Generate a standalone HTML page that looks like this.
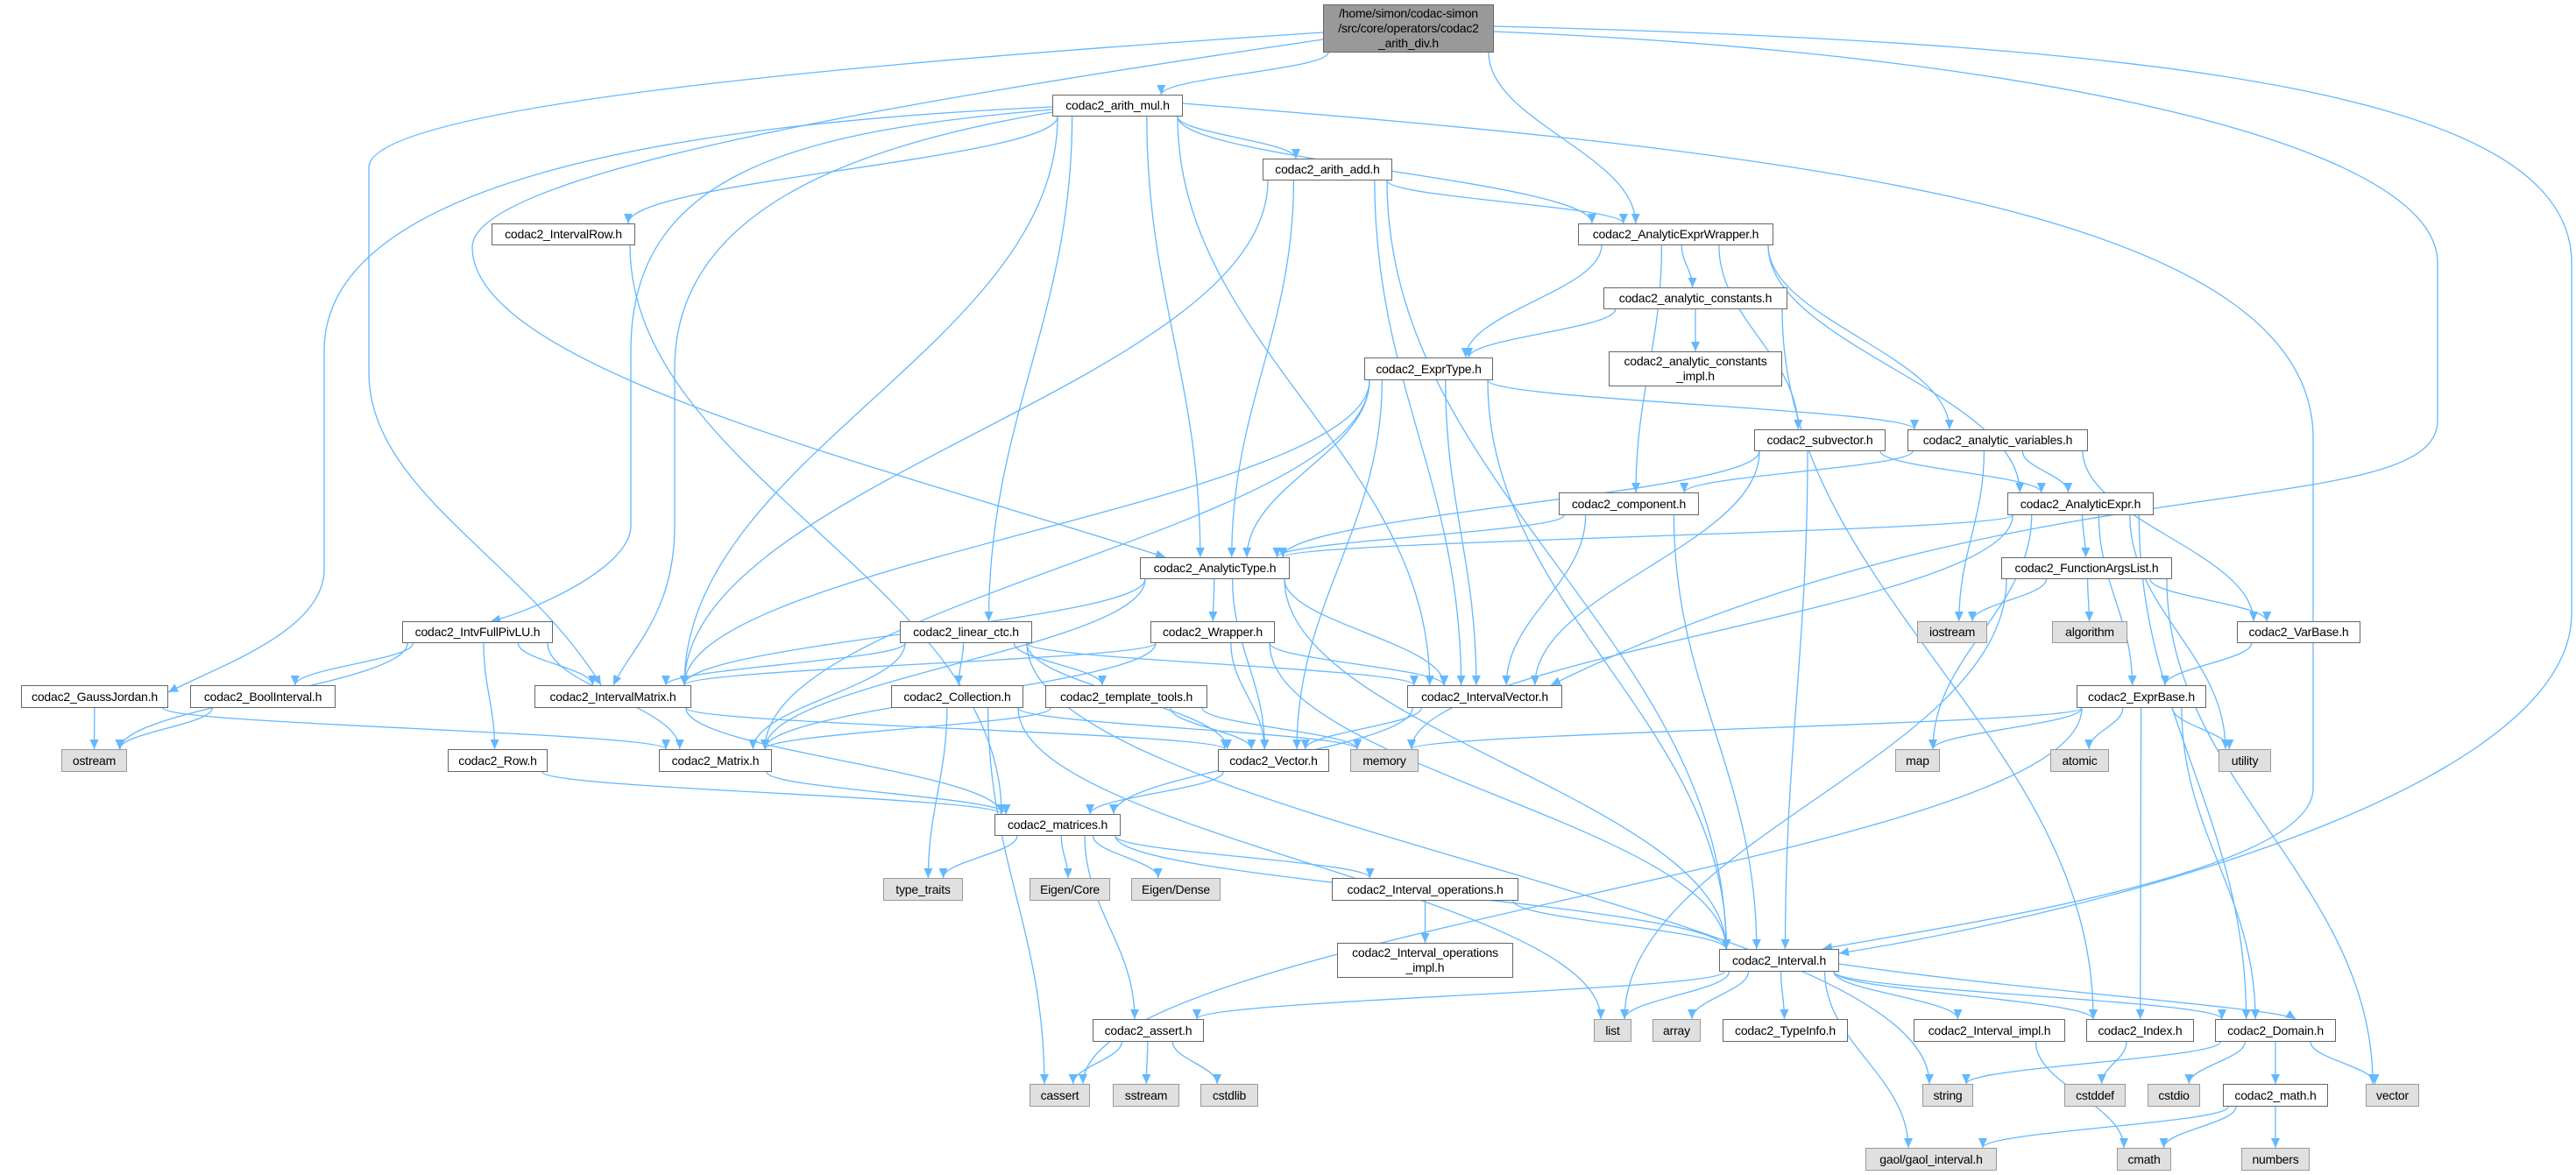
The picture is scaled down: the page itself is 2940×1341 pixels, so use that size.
<!DOCTYPE html>
<html><head><meta charset="utf-8">
<style>
html,body{margin:0;padding:0;background:#fff;}
#wrap{position:relative;width:2940px;height:1341px;overflow:hidden;background:#fff;}
svg{position:absolute;left:0;top:0;}
.n{position:absolute;box-sizing:border-box;border:1.5px solid #666;background:#fff;font-family:"Liberation Sans",sans-serif;font-size:14px;color:#000;display:flex;align-items:center;justify-content:center;text-align:center;line-height:17px;white-space:nowrap;letter-spacing:-0.2px;}
.g{background:#e0e0e0;border-color:#999;}
.r{background:#999;border-color:#666;}
</style></head><body><div id="wrap">
<svg id="edges" width="2940" height="1341" viewBox="0 0 2940 1341">
<defs><marker id="ah" markerUnits="userSpaceOnUse" markerWidth="12" markerHeight="10" refX="11" refY="5" orient="auto"><path d="M0,0 L11,5 L0,10 z" fill="#63b8ff"/></marker></defs>
<g id="eg" fill="none" stroke="#63b8ff" stroke-width="1.3"></g>
</svg>
<div class="n r" id="root" style="left:1510px;top:5px;width:195px;height:55px;">/home/simon/codac-simon<br>/src/core/operators/codac2<br>_arith_div.h</div>
<div class="n" id="mul" style="left:1201px;top:108px;width:149px;height:25px;">codac2_arith_mul.h</div>
<div class="n" id="add" style="left:1441px;top:181px;width:148px;height:25px;">codac2_arith_add.h</div>
<div class="n" id="aew" style="left:1801px;top:255px;width:223px;height:25px;">codac2_AnalyticExprWrapper.h</div>
<div class="n" id="aconst" style="left:1830px;top:328px;width:210px;height:25px;">codac2_analytic_constants.h</div>
<div class="n" id="aconstimpl" style="left:1836px;top:401px;width:198px;height:40px;">codac2_analytic_constants<br>_impl.h</div>
<div class="n" id="expr" style="left:1557px;top:408px;width:147px;height:26px;">codac2_ExprType.h</div>
<div class="n" id="comp" style="left:1779px;top:562px;width:160px;height:26px;">codac2_component.h</div>
<div class="n" id="atype" style="left:1301px;top:636px;width:171px;height:25px;">codac2_AnalyticType.h</div>
<div class="n" id="subv" style="left:2002px;top:490px;width:150px;height:25px;">codac2_subvector.h</div>
<div class="n" id="avars" style="left:2177px;top:490px;width:206px;height:25px;">codac2_analytic_variables.h</div>
<div class="n" id="aexpr" style="left:2291px;top:562px;width:167px;height:26px;">codac2_AnalyticExpr.h</div>
<div class="n" id="fargs" style="left:2284px;top:636px;width:195px;height:25px;">codac2_FunctionArgsList.h</div>
<div class="n" id="irow" style="left:561px;top:255px;width:164px;height:25px;">codac2_IntervalRow.h</div>
<div class="n" id="ifull" style="left:459px;top:709px;width:172px;height:25px;">codac2_IntvFullPivLU.h</div>
<div class="n" id="gj" style="left:24px;top:782px;width:168px;height:26px;">codac2_GaussJordan.h</div>
<div class="n" id="bool" style="left:217px;top:782px;width:166px;height:26px;">codac2_BoolInterval.h</div>
<div class="n g" id="ostream" style="left:70px;top:855px;width:75px;height:26px;">ostream</div>
<div class="n" id="imat" style="left:610px;top:782px;width:179px;height:26px;">codac2_IntervalMatrix.h</div>
<div class="n" id="row" style="left:511px;top:855px;width:114px;height:26px;">codac2_Row.h</div>
<div class="n" id="mat" style="left:752px;top:855px;width:129px;height:26px;">codac2_Matrix.h</div>
<div class="n" id="lctc" style="left:1027px;top:709px;width:151px;height:25px;">codac2_linear_ctc.h</div>
<div class="n" id="wrap2" style="left:1313px;top:709px;width:142px;height:25px;">codac2_Wrapper.h</div>
<div class="n" id="coll" style="left:1017px;top:782px;width:151px;height:26px;">codac2_Collection.h</div>
<div class="n" id="ttools" style="left:1193px;top:782px;width:185px;height:26px;">codac2_template_tools.h</div>
<div class="n" id="ivec" style="left:1606px;top:782px;width:177px;height:26px;">codac2_IntervalVector.h</div>
<div class="n" id="vec" style="left:1390px;top:855px;width:127px;height:26px;">codac2_Vector.h</div>
<div class="n g" id="memory" style="left:1541px;top:855px;width:78px;height:26px;">memory</div>
<div class="n g" id="map" style="left:2163px;top:855px;width:51px;height:26px;">map</div>
<div class="n g" id="atomic" style="left:2340px;top:855px;width:67px;height:26px;">atomic</div>
<div class="n g" id="utility" style="left:2532px;top:855px;width:60px;height:26px;">utility</div>
<div class="n g" id="iostream" style="left:2188px;top:709px;width:80px;height:25px;">iostream</div>
<div class="n g" id="algo" style="left:2342px;top:709px;width:86px;height:25px;">algorithm</div>
<div class="n" id="varbase" style="left:2553px;top:709px;width:141px;height:25px;">codac2_VarBase.h</div>
<div class="n" id="exprbase" style="left:2370px;top:782px;width:148px;height:26px;">codac2_ExprBase.h</div>
<div class="n" id="matrices" style="left:1135px;top:929px;width:144px;height:25px;">codac2_matrices.h</div>
<div class="n g" id="ttraits" style="left:1008px;top:1002px;width:91px;height:26px;">type_traits</div>
<div class="n g" id="ecore" style="left:1175px;top:1002px;width:92px;height:26px;">Eigen/Core</div>
<div class="n g" id="edense" style="left:1291px;top:1002px;width:102px;height:26px;">Eigen/Dense</div>
<div class="n" id="iops" style="left:1520px;top:1002px;width:213px;height:26px;">codac2_Interval_operations.h</div>
<div class="n" id="iopsimpl" style="left:1526px;top:1076px;width:201px;height:40px;">codac2_Interval_operations<br>_impl.h</div>
<div class="n" id="interval" style="left:1962px;top:1083px;width:137px;height:26px;">codac2_Interval.h</div>
<div class="n" id="assert" style="left:1247px;top:1163px;width:127px;height:26px;">codac2_assert.h</div>
<div class="n g" id="list" style="left:1819px;top:1163px;width:43px;height:26px;">list</div>
<div class="n g" id="array" style="left:1886px;top:1163px;width:55px;height:26px;">array</div>
<div class="n" id="typeinfo" style="left:1966px;top:1163px;width:143px;height:26px;">codac2_TypeInfo.h</div>
<div class="n" id="iimpl" style="left:2184px;top:1163px;width:173px;height:26px;">codac2_Interval_impl.h</div>
<div class="n" id="index" style="left:2381px;top:1163px;width:123px;height:26px;">codac2_Index.h</div>
<div class="n" id="domain" style="left:2528px;top:1163px;width:138px;height:26px;">codac2_Domain.h</div>
<div class="n g" id="cassert" style="left:1175px;top:1237px;width:69px;height:26px;">cassert</div>
<div class="n g" id="sstream" style="left:1270px;top:1237px;width:76px;height:26px;">sstream</div>
<div class="n g" id="cstdlib" style="left:1370px;top:1237px;width:66px;height:26px;">cstdlib</div>
<div class="n g" id="string" style="left:2194px;top:1237px;width:58px;height:26px;">string</div>
<div class="n g" id="cstddef" style="left:2356px;top:1237px;width:70px;height:26px;">cstddef</div>
<div class="n g" id="cstdio" style="left:2451px;top:1237px;width:60px;height:26px;">cstdio</div>
<div class="n" id="math" style="left:2537px;top:1237px;width:120px;height:26px;">codac2_math.h</div>
<div class="n g" id="vector" style="left:2700px;top:1237px;width:61px;height:26px;">vector</div>
<div class="n g" id="gaol" style="left:2129px;top:1310px;width:150px;height:26px;">gaol/gaol_interval.h</div>
<div class="n g" id="cmath" style="left:2416px;top:1310px;width:62px;height:26px;">cmath</div>
<div class="n g" id="numbers" style="left:2558px;top:1310px;width:78px;height:26px;">numbers</div>
</div>
<script>
(function(){
var E=[
["root","mul"],["root","aew"],
["mul","add"],["mul","aew"],["mul","irow"],["mul","lctc"],["mul","atype"],["mul","ivec"],["mul","imat"],
["add","aew"],["add","atype"],["add","ivec"],["add","imat"],["add","interval"],
["aew","aconst"],["aew","expr"],["aew","comp"],["aew","subv"],["aew","avars"],["aew","aexpr"],
["aconst","aconstimpl"],["aconst","expr"],["aconst","index"],
["expr","atype"],["expr","ivec"],["expr","imat"],["expr","mat"],["expr","vec"],["expr","interval"],["expr","avars"],
["subv","atype"],["subv","ivec"],["subv","interval"],["subv","aexpr"],
["avars","comp"],["avars","aexpr"],["avars","iostream"],["avars","varbase"],
["comp","atype"],["comp","ivec"],["comp","interval"],
["aexpr","atype"],["aexpr","fargs"],["aexpr","exprbase"],["aexpr","memory"],["aexpr","map"],["aexpr","utility"],["aexpr","domain"],
["fargs","iostream"],["fargs","algo"],["fargs","varbase"],["fargs","list"],["fargs","vector"],
["varbase","exprbase"],
["exprbase","memory"],["exprbase","map"],["exprbase","atomic"],["exprbase","utility"],["exprbase","index"],["exprbase","domain"],["exprbase","cassert"],
["atype","wrap2"],["atype","imat"],["atype","mat"],["atype","vec"],["atype","ivec"],["atype","interval"],
["wrap2","imat"],["wrap2","mat"],["wrap2","vec"],["wrap2","ivec"],["wrap2","interval"],
["lctc","coll"],["lctc","ttools"],["lctc","imat"],["lctc","mat"],["lctc","ivec"],["lctc","vec"],["lctc","string"],
["ifull","ostream"],["ifull","bool"],["ifull","imat"],["ifull","mat"],["ifull","row"],
["gj","ostream"],["gj","mat"],["bool","ostream"],
["imat","matrices"],["imat","vec"],["irow","matrices"],["row","matrices"],["mat","matrices"],
["coll","ttraits"],["coll","cassert"],["coll","list"],["coll","memory"],
["ttools","vec"],["ttools","memory"],["ttools","mat"],
["ivec","vec"],["ivec","matrices"],["vec","matrices"],
["matrices","ttraits"],["matrices","ecore"],["matrices","edense"],["matrices","iops"],["matrices","assert"],["matrices","interval"],
["iops","iopsimpl"],["iops","interval"],
["interval","assert"],["interval","list"],["interval","array"],["interval","typeinfo"],["interval","iimpl"],["interval","index"],["interval","domain"],["interval","gaol"],
["assert","cassert"],["assert","sstream"],["assert","cstdlib"],
["iimpl","cmath"],["index","cstddef"],
["domain","string"],["domain","cstdio"],["domain","math"],["domain","vector"],
["math","gaol"],["math","cmath"],["math","numbers"]
];
function box(id){var e=document.getElementById(id);return {x:e.offsetLeft,y:e.offsetTop,w:e.offsetWidth,h:e.offsetHeight};}
function cl(v,a,b){return Math.max(a,Math.min(b,v));}
var g=document.getElementById("eg"),ns="http://www.w3.org/2000/svg";
function add(d){var p=document.createElementNS(ns,"path");p.setAttribute("d",d);p.setAttribute("marker-end","url(#ah)");g.appendChild(p);}
E.forEach(function(e){
var s=box(e[0]),t=box(e[1]);
var scx=s.x+s.w/2,tcx=t.x+t.w/2;
var sx,sy,tx,ty;
if(t.y>=s.y+s.h){
sx=scx+cl((tcx-scx)*0.3,-s.w/2+6,s.w/2-6);sy=s.y+s.h;
tx=tcx+cl((scx-tcx)*0.15,-t.w/2+8,t.w/2-8);ty=t.y;
}else{
sx=scx+cl((tcx-scx)*0.3,-s.w/2+6,s.w/2-6);sy=s.y;
tx=tcx+cl((scx-tcx)*0.15,-t.w/2+8,t.w/2-8);ty=t.y+t.h;
}
var dy=(ty-sy)*0.4;
add("M"+sx+","+sy+" C"+sx+","+(sy+dy)+" "+tx+","+(ty-dy)+" "+tx+","+ty);
});
add("M1705,30 C2500,50 2935,110 2935,300 L2935,700 C2935,900 2400,1040 2099,1088");
add("M1705,36 C2300,60 2782,160 2782,300 L2782,480 C2782,600 2300,520 1770,782");
add("M1510,37 C1000,70 421,120 421,191 L421,425 C421,560 600,640 686,782");
add("M1510,45 C1000,120 539,200 539,282 C539,420 1000,530 1330,636");
add("M1201,122 C800,140 370,200 370,400 L370,650 C370,720 250,760 192,790");
add("M1201,125 C900,150 720,200 720,400 L720,600 C720,650 600,700 560,709");
add("M1201,128 C950,170 770,250 770,420 L770,600 C770,700 720,740 700,782");
add("M1350,118 C2000,170 2640,230 2640,500 L2640,900 C2640,1000 2200,1060 2080,1083");
add("M2099,1100 C2300,1130 2600,1150 2620,1163");
})();
</script>
</body></html>
